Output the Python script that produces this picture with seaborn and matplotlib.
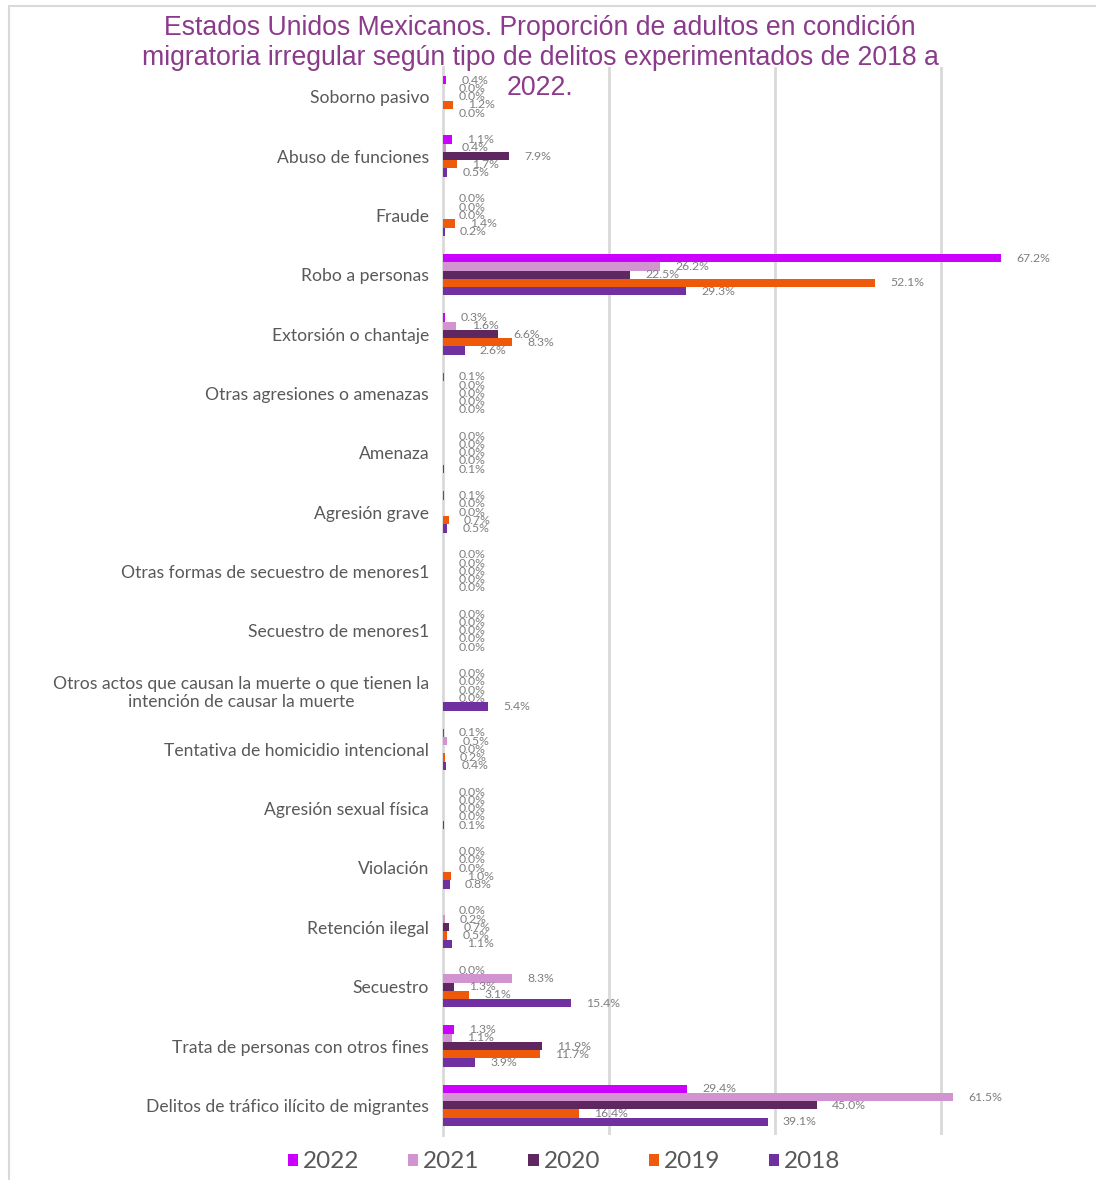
import matplotlib
matplotlib.use("Agg")
import matplotlib.pyplot as plt
import seaborn as sns
import pandas as pd
from matplotlib.lines import Line2D
from matplotlib.patches import Patch

categories = [
    "Soborno pasivo",
    "Abuso de funciones",
    "Fraude",
    "Robo a personas",
    "Extorsión o chantaje",
    "Otras agresiones o amenazas",
    "Amenaza",
    "Agresión grave",
    "Otras formas de secuestro de menores1",
    "Secuestro de menores1",
    "Otros actos que causan la muerte o que tienen la\nintención de causar la muerte",
    "Tentativa de homicidio intencional",
    "Agresión sexual física",
    "Violación",
    "Retención ilegal",
    "Secuestro",
    "Trata de personas con otros fines",
    "Delitos de tráfico ilícito de migrantes",
]

years = ["2022", "2021", "2020", "2019", "2018"]

v2022 = [0.4, 1.1, 0.0, 67.2, 0.3, 0.1, 0.0, 0.1, 0.0, 0.0, 0.0, 0.1, 0.0, 0.0, 0.0, 0.0, 1.3, 29.4]
v2021 = [0.0, 0.4, 0.0, 26.2, 1.6, 0.0, 0.0, 0.0, 0.0, 0.0, 0.0, 0.5, 0.0, 0.0, 0.2, 8.3, 1.1, 61.5]
v2020 = [0.0, 7.9, 0.0, 22.5, 6.6, 0.0, 0.0, 0.0, 0.0, 0.0, 0.0, 0.0, 0.0, 0.0, 0.7, 1.3, 11.9, 45.0]
v2019 = [1.2, 1.7, 1.4, 52.1, 8.3, 0.0, 0.0, 0.7, 0.0, 0.0, 0.0, 0.2, 0.0, 1.0, 0.5, 3.1, 11.7, 16.4]
v2018 = [0.0, 0.5, 0.2, 29.3, 2.6, 0.0, 0.1, 0.5, 0.0, 0.0, 5.4, 0.4, 0.1, 0.8, 1.1, 15.4, 3.9, 39.1]

colors = {"2022": "#CC00FF", "2021": "#D194D1", "2020": "#5E2760",
          "2019": "#EE5A0A", "2018": "#7030A0"}

series = {"2022": v2022, "2021": v2021, "2020": v2020, "2019": v2019, "2018": v2018}
rows = []
for y in years:
    for c, v in zip(categories, series[y]):
        rows.append({"Categoria": c, "Año": y, "Valor": v})
df = pd.DataFrame(rows)

sns.set_theme(style="white")
plt.rcParams["font.family"] = ["Lato", "DejaVu Sans"]

W, H = 1096, 1180
fig = plt.figure(figsize=(W / 100, H / 100), dpi=100)
ax_left, ax_right = 443 / W, 1.0
ax_top, ax_bottom = 1 - 67 / H, 1 - 1135 / H
ax = fig.add_axes([ax_left, ax_bottom, ax_right - ax_left, ax_top - ax_bottom])

sns.barplot(data=df, y="Categoria", x="Valor", hue="Año", hue_order=years,
            order=categories, palette=colors, orient="h", width=0.70,
            ax=ax, legend=False, linewidth=0, saturation=1)

xmax = (W - 443) / 8.3
ax.set_xlim(0, xmax)
ax.set_ylim(len(categories) - 0.5, -0.5)
ax.set_xticks([20, 40, 60])
ax.set_xticklabels([])
ax.xaxis.grid(True, color="#D9D9D9", linewidth=2)
ax.yaxis.grid(False)
ax.set_axisbelow(True)
for s in ["top", "right", "bottom"]:
    ax.spines[s].set_visible(False)
ax.spines["left"].set_color("#D9D9D9")
ax.spines["left"].set_linewidth(2)
ax.spines["left"].set_zorder(0.5)
ax.tick_params(axis="both", length=0)
ax.tick_params(axis="y", pad=10, labelsize=12.6, labelcolor="#595959")
ax.set_xlabel("")
ax.set_ylabel("")
for lab in ax.get_yticklabels():
    lab.set_multialignment("center")

for cont in ax.containers:
    ax.bar_label(cont, fmt="%.1f%%", padding=11, fontsize=8.8, color="#7F7F7F")

fig.suptitle("Estados Unidos Mexicanos. Proporción de adultos en condición\n"
             "migratoria irregular según tipo de delitos experimentados de 2018 a\n"
             "2022.", x=540 / W, y=1 - 15 / H, va="top", ha="center",
             fontsize=19.2, color="#8B3A8C", family=["Liberation Sans", "DejaVu Sans"],
             linespacing=1.2)

handles = [Patch(facecolor=colors[y], edgecolor="none") for y in years]
fig.legend(handles, years, loc="center", bbox_to_anchor=(564 / W, 1 - 1162 / H),
           ncol=5, frameon=False, fontsize=17.5, labelcolor="#595959",
           handlelength=0.42, handleheight=0.42, handletextpad=0.2,
           columnspacing=2.0)

fig.add_artist(Line2D([9 / W, 9 / W], [0, 1 - 6 / H], color="#D9D9D9", linewidth=1.5))
fig.add_artist(Line2D([9 / W, 1], [1 - 6 / H, 1 - 6 / H], color="#D9D9D9", linewidth=1.5))

fig.savefig("out.png", dpi=100)
